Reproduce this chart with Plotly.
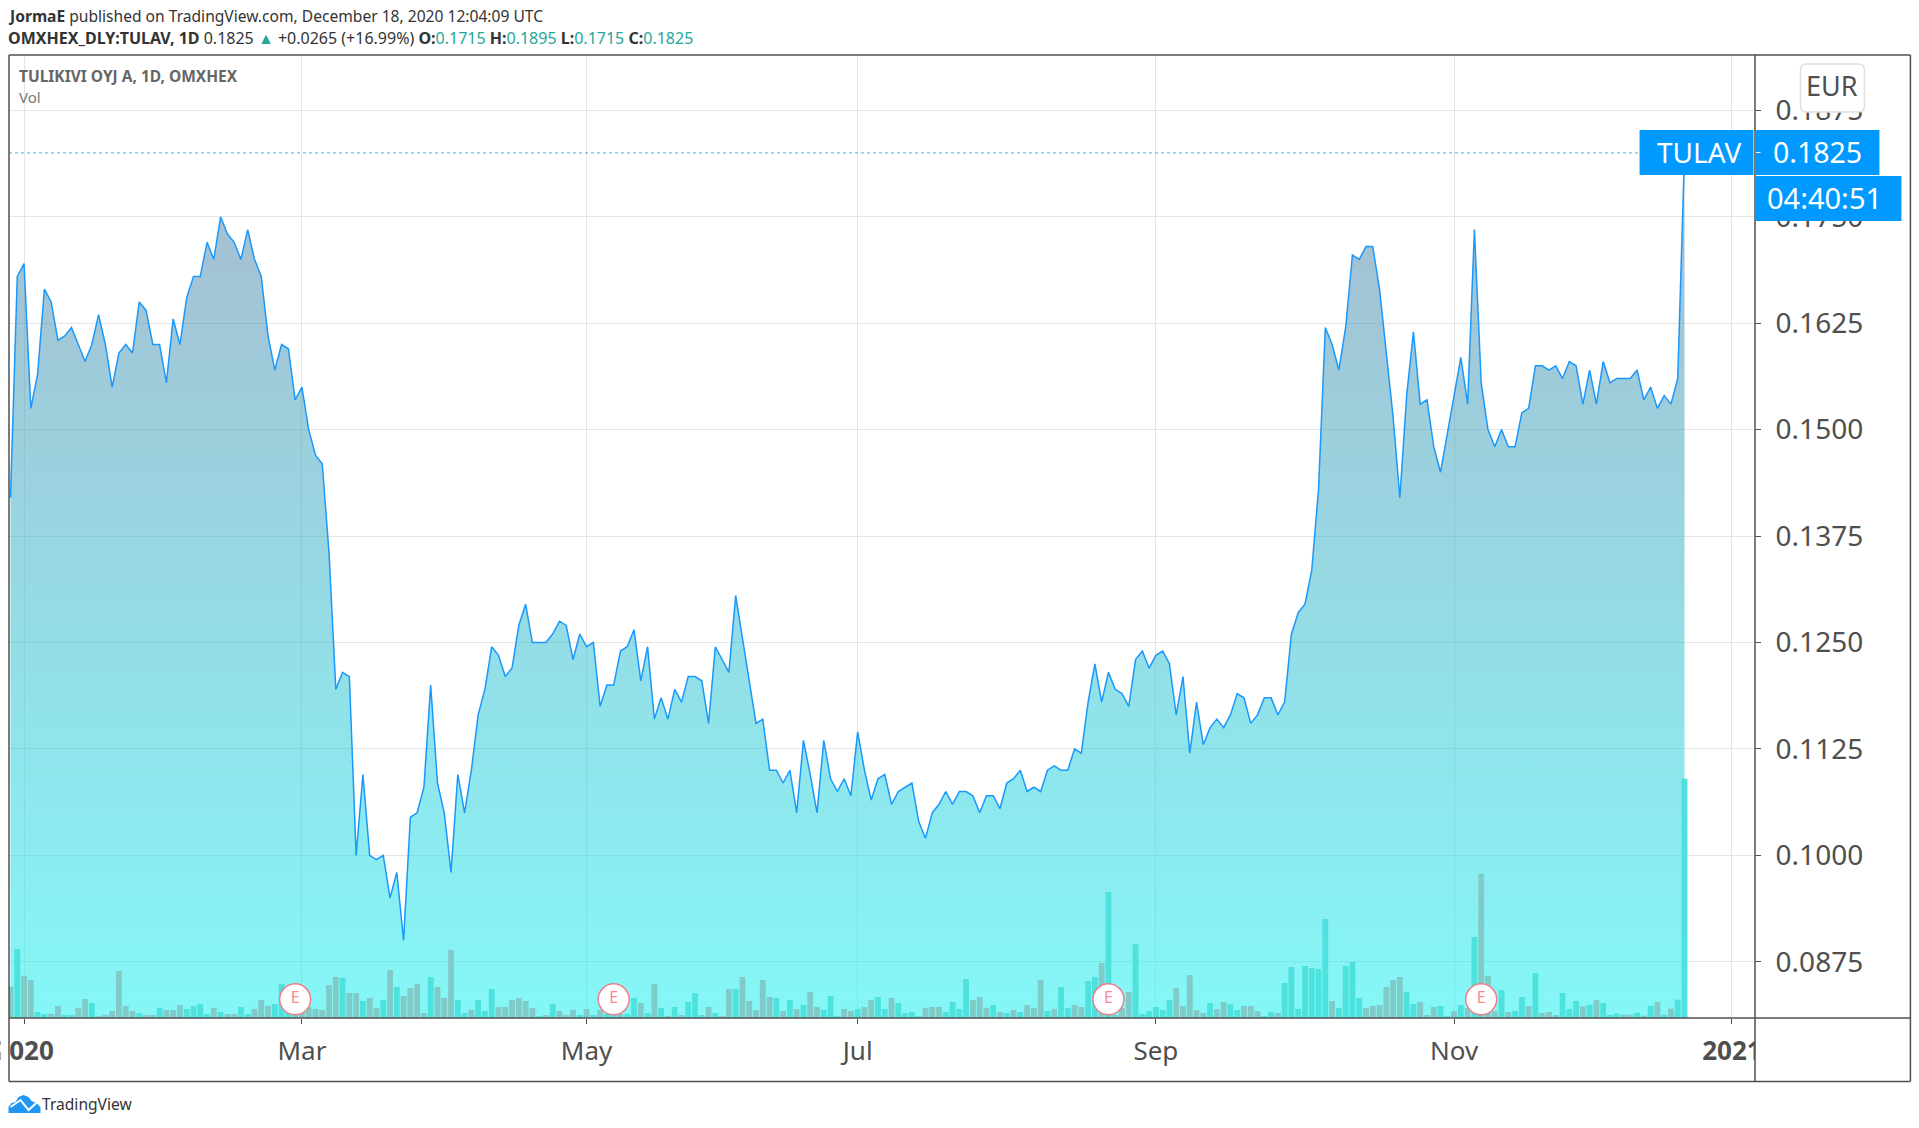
import plotly.graph_objects as go

# Daily close
prices = [
    .142, .168, .1695, .1525, .1565, .1665, .165, .1605, .161, .162,
    .16, .158, .16, .1635, .16, .155, .159, .16, .159, .165,
    .164, .16, .16, .1555, .163, .16, .1655, .168, .168, .172,
    .17, .175, .173, .172, .17, .1735, .17, .168, .161, .157,
    .16, .1595, .1535, .155, .15, .147, .146, .1355, .1195, .1215,
    .121, .1, .1095, .1, .0995, .1, .095, .098, .09, .1045,
    .105, .108, .12, .1085, .105, .098, .1095, .105, .11, .1165,
    .1195, .1245, .1235, .121, .122, .127, .1295, .125, .125, .125,
    .126, .1275, .127, .123, .126, .1245, .125, .1175, .12, .12,
    .124, .1245, .1265, .1205, .1245, .116, .1185, .116, .1195, .118,
    .121, .121, .1205, .1155, .1245, .123, .1215, .1305, .1255, .12,
    .1155, .116, .11, .11, .1085, .11, .105, .1135, .1095, .105,
    .1135, .109, .1075, .109, .107, .1145, .11, .1065, .109, .1095,
    .106, .1075, .108, .1085, .104, .102, .105, .106, .1075, .106,
    .1075, .1075, .107, .105, .107, .107, .1055, .1085, .109, .11,
    .1075, .108, .1075, .11, .1105, .11, .11, .1125, .112, .118,
    .1225, .118, .1215, .1195, .119, .1175, .123, .124, .122, .1235,
    .124, .1225, .1165, .121, .112, .118, .113, .115, .116, .115,
    .1165, .119, .1185, .1155, .1165, .1185, .1185, .1165, .118, .126,
    .1285, .1295, .1335, .143, .162, .16, .157, .162, .1705, .17,
    .1715, .1715, .1665, .159, .1515, .142, .154, .1615, .153, .1535,
    .148, .145, .1495, .1535, .1585, .153, .1735, .1555, .15, .148,
    .15, .148, .148, .152, .1525, .1575, .1575, .157, .1575, .156,
    .158, .1575, .153, .157, .153, .158, .1555, .156, .156, .156,
    .157, .1535, .155, .1525, .154, .153, .156, .1825,
]

# Volume in arbitrary units (real scale is not shown on the chart)
volumes = [
    94, 207, 126, 114, 18, 12, 12, 36, 9, 9,
    30, 57, 45, 6, 9, 21, 141, 36, 21, 15,
    9, 9, 30, 24, 24, 39, 27, 36, 42, 12,
    30, 18, 12, 12, 33, 12, 27, 54, 36, 42,
    102, 30, 20, 45, 32, 27, 24, 99, 123, 120,
    75, 75, 51, 60, 30, 54, 144, 93, 66, 90,
    102, 15, 123, 93, 60, 204, 54, 15, 24, 54,
    21, 87, 33, 33, 54, 60, 51, 30, 6, 9,
    42, 21, 9, 24, 9, 27, 9, 24, 12, 10,
    12, 12, 60, 45, 15, 102, 30, 6, 33, 9,
    48, 75, 9, 33, 15, 6, 87, 87, 123, 51,
    24, 114, 63, 60, 21, 54, 27, 39, 78, 33,
    24, 66, 6, 27, 21, 27, 33, 54, 63, 27,
    60, 45, 15, 18, 6, 30, 33, 33, 18, 48,
    27, 117, 54, 63, 30, 39, 18, 15, 24, 18,
    39, 30, 114, 21, 27, 93, 30, 39, 33, 111,
    123, 165, 378, 9, 30, 78, 222, 12, 21, 33,
    24, 54, 90, 36, 129, 24, 15, 45, 27, 48,
    42, 24, 36, 36, 21, 6, 18, 15, 105, 153,
    27, 156, 150, 147, 297, 51, 30, 156, 168, 60,
    30, 36, 39, 93, 114, 123, 78, 42, 48, 9,
    33, 36, 6, 21, 39, 30, 243, 433, 126, 20,
    84, 18, 21, 63, 36, 135, 15, 18, 9, 75,
    27, 51, 35, 40, 54, 45, 10, 13, 10, 10,
    16, 7, 37, 48, 10, 28, 55, 718,
]

# u = up day, d = down day, one letter per volume bar
directions = "".join([
    "duddu" "udduu", "ddudd" "ddddu", "ddudd" "duuuu", "duddu" "udddu",
    "uuddd" "ddddu", "ddudd" "ududd", "ddudd" "duudu", "uuddd" "dddud",
    "udddu" "duduu", "duudu" "dudud", "uuudu" "ddudd", "dddud" "ududd",
    "uuudd" "udduu", "duuuu" "ddduu", "uuddd" "ududu", "dddud" "uuddu",
    "ududd" "duuuu", "uuddd" "ddudd", "uuddd" "uuduu", "uuuuu" "duuuu",
    "ddddd" "duudd", "duudu" "duddd", "uduud" "udddu", "uudud" "uuudd",
    "ududu" "duu",
])

tick_index = [2, 43, 85, 125, 169, 213, 254]
tick_labels = ["<b>2020</b>", "Mar", "May", "Jul", "Sep", "Nov", "<b>2021</b>"]
price_ticks = [.0875, .1, .1125, .125, .1375, .15, .1625, .175, .1875]
earnings_index = [42, 89, 162, 217]
earnings_level = [56, 56, 56, 56]

W, H = 1919, 1128
LEFT, RIGHT, TOP, BOTTOM = 8.5, 1755.5, 55, 1018
FONT = "Noto Sans"
BLUE = "#0099FF"
GREY = "#4F4F4F"
TEAL = "#26A69A"


def px(x):
    return (x - LEFT) / (RIGHT - LEFT)


def py(y):
    return (BOTTOM - y) / (BOTTOM - TOP)


def rect(x0, y0, x1, y1, color):
    return dict(type="rect", xref="paper", yref="paper", x0=px(x0), x1=px(x1), y0=py(y0), y1=py(y1),
                fillcolor=color, line_width=0, layer="above")


def line(x0, y0, x1, y1, color=GREY, width=1.5):
    return dict(type="line", xref="paper", yref="paper", x0=px(x0), x1=px(x1), y0=py(y0), y1=py(y1),
                line=dict(color=color, width=width), layer="above")


def poly(points, fill=None, color=None, width=0, close=True):
    path = "M " + " L ".join(f"{px(x):.5f} {py(y):.5f}" for x, y in points)
    if close:
        path += " Z"
    return dict(type="path", xref="paper", yref="paper", path=path, fillcolor=fill,
                line=dict(color=color, width=width), layer="above")


def note(text, x, y, size, color=GREY, anchor="left"):
    return dict(text=text, xref="paper", yref="paper", x=px(x), y=py(y), showarrow=False,
                xanchor=anchor, yanchor="middle", font=dict(family=FONT, size=size, color=color))


fig = go.Figure()

x_index = list(range(len(prices)))

fig.add_trace(go.Scatter(
    x=x_index, y=prices, mode="lines", fill="tozeroy",
    line=dict(color="#1A98FC", width=1.5),
    fillgradient=dict(type="vertical", start=.0809, stop=.1825,
                      colorscale=[[0, "rgba(10,239,239,0.5)"], [1, "rgba(80,120,160,0.5)"]]),
    showlegend=False, hoverinfo="skip",
))

bar_colors = ["#4DE2DE" if d == "u" else "#80CBC8" for d in directions]
fig.add_trace(go.Bar(
    x=x_index, y=volumes, yaxis="y2", width=.86,
    marker=dict(color=bar_colors, line_width=0),
    showlegend=False, hoverinfo="skip",
))

fig.add_trace(go.Scatter(
    x=earnings_index, y=earnings_level, yaxis="y2", mode="markers+text",
    marker=dict(size=31, color="white", line=dict(color="#EF7F8D", width=1.5)),
    text=["E"] * len(earnings_index), textposition="middle center",
    textfont=dict(family=FONT, size=16, color="#F58A97"),
    showlegend=False, hoverinfo="skip",
))

# EUR badge with rounded corners
ex0, ey0, ex1, ey1 = px(1801), py(64), px(1865), py(112)
erx, ery = px(1807) - px(1801), py(64) - py(70)
eur_path = (f"M {ex0 + erx} {ey0} L {ex1 - erx} {ey0} Q {ex1} {ey0} {ex1} {ey0 - ery} "
            f"L {ex1} {ey1 + ery} Q {ex1} {ey1} {ex1 - erx} {ey1} L {ex0 + erx} {ey1} "
            f"Q {ex0} {ey1} {ex0} {ey1 + ery} L {ex0} {ey0 - ery} Q {ex0} {ey0} {ex0 + erx} {ey0} Z")

# Frame, price labels and the pieces that clip the edge labels
shapes = [
    rect(0, 1019, LEFT, 1080, "white"),
    rect(RIGHT, 1019, 1800, 1080, "white"),
    line(LEFT, TOP, 1911, TOP),
    line(LEFT, TOP, LEFT, 1081.5),
    line(1911, TOP, 1911, 1081.5),
    line(LEFT, 1081.5, 1911, 1081.5),
    line(LEFT, BOTTOM, 1911, BOTTOM),
    line(RIGHT, TOP, RIGHT, 1081.5),
    dict(type="line", xref="paper", yref="y", x0=0, x1=px(1640), y0=prices[-1], y1=prices[-1],
         line=dict(color=BLUE, width=.8, dash="dot"), layer="above"),
    rect(1640, 130, 1754, 175, BLUE),
    rect(1756.5, 130, 1880, 175, BLUE),
    rect(1756.5, 176, 1902, 221, BLUE),
    line(1756.5, 152.5, 1761, 152.5, "white", 1),
    dict(type="path", xref="paper", yref="paper", path=eur_path, fillcolor="white",
         line=dict(color="#E0E0E0", width=1.5), layer="above"),
    # TradingView cloud
    poly([(8, 1113), (8, 1107), (11, 1103), (15, 1102), (18, 1097), (23, 1095), (28, 1097), (31, 1101),
          (36, 1103), (40, 1107), (40, 1113)], fill="#2196F3"),
    poly([(10, 1107), (20, 1100), (28, 1110), (37, 1102)], color="white", width=2, close=False),
]

annotations = [
    note("<b>JormaE</b> published on TradingView.com, December 18, 2020 12:04:09 UTC", 5, 16, 15.6, "#333333"),
    note("<b>OMXHEX_DLY:TULAV, 1D</b> 0.1825 "
         f"<span style='color:{TEAL}'>▲</span> +0.0265 (+16.99%) "
         f"<b>O:</b><span style='color:{TEAL}'>0.1715</span> "
         f"<b>H:</b><span style='color:{TEAL}'>0.1895</span> "
         f"<b>L:</b><span style='color:{TEAL}'>0.1715</span> "
         f"<b>C:</b><span style='color:{TEAL}'>0.1825</span>", 5, 38, 16, "#333333"),
    note("<b>TULIKIVI OYJ A, 1D, OMXHEX</b>", 17, 76, 15.5, "#666666"),
    note("Vol", 17, 97, 15, "#777777"),
    note("EUR", 1833, 85, 27, GREY, "center"),
    note("TULAV", 1699, 151.5, 28, "white", "center"),
    note("0.1825", 1818, 151.5, 28.5, "white", "center"),
    note("04:40:51", 1825, 197.5, 29, "white", "center"),
    note("TradingView", 40, 1104, 15.6, "#333333"),
]

fig.update_layout(
    width=W, height=H,
    margin=dict(l=LEFT, r=W - RIGHT, t=TOP, b=H - BOTTOM, autoexpand=False),
    paper_bgcolor="white", plot_bgcolor="white",
    shapes=shapes, annotations=annotations,
    xaxis=dict(
        range=[-.22, 257.4], tickmode="array", tickvals=tick_index, ticktext=tick_labels,
        tickangle=0, ticks="outside", ticklen=5, tickcolor=GREY, showline=False,
        showgrid=True, gridcolor="#E6E6E6", gridwidth=1, zeroline=False,
        ticklabelstandoff=5, ticklabeloverflow="allow",
        tickfont=dict(family=FONT, size=26, color=GREY),
    ),
    yaxis=dict(
        side="right", range=[.0809, .194], tickmode="array", tickvals=price_ticks, tickformat=".4f",
        ticks="outside", ticklen=5, tickcolor=GREY, showline=False,
        showgrid=True, gridcolor="#E6E6E6", gridwidth=1, zeroline=False,
        ticklabelstandoff=9, ticklabeloverflow="allow",
        tickfont=dict(family=FONT, size=28, color=GREY),
    ),
    yaxis2=dict(overlaying="y", range=[0, 2889], visible=False),
)

fig.write_html("out.html", config={"displayModeBar": False},
               post_script="document.body.style.margin='0';document.body.style.overflow='hidden';")
